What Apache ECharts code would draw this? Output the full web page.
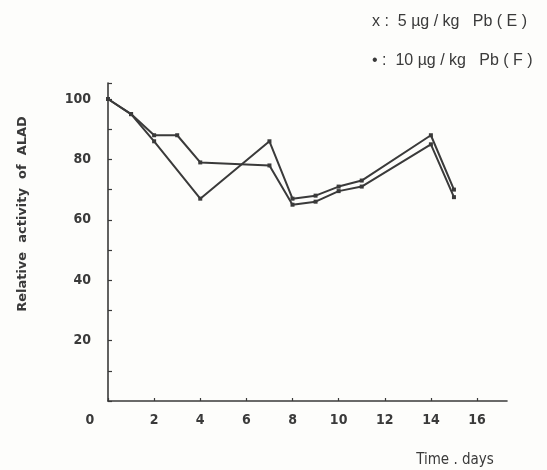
<!DOCTYPE html>
<html>
<head>
<meta charset="utf-8">
<script src="https://cdn.jsdelivr.net/npm/echarts@6/dist/echarts.min.js"></script>
<style>
  html, body { margin: 0; padding: 0; background: #fdfdfb; }
  #chart { width: 547px; height: 470px; }
</style>
</head>
<body>
<div id="chart"></div>
<script>
// Relative ALAD activity after lead dosing, two dose groups
const seriesNames = ['x :  5 µg / kg   Pb ( E )', '• :  10 µg / kg   Pb ( F )'];

const daysE = [0, 1, 2, 4, 7, 8, 9, 10, 11, 14, 15];
const valuesE = [100, 95, 86, 67, 86, 67, 68, 71, 73, 88, 70];

const daysF = [0, 1, 2, 3, 4, 7, 8, 9, 10, 11, 14, 15];
const valuesF = [100, 95, 88, 88, 79, 78, 65, 66, 69.5, 71, 85, 67.5];

const xTicks = [0, 2, 4, 6, 8, 10, 12, 14, 16];
const yTicks = [20, 40, 60, 80, 100];

const ink = '#3a3a3a';
const font = 'DejaVu Sans Condensed';

const pairs = (xs, ys) => xs.map((x, i) => [x, ys[i]]);

const chart = echarts.init(document.getElementById('chart'));

const lineSeries = (name, xs, ys) => ({
  name: name,
  type: 'line',
  data: pairs(xs, ys),
  symbol: 'rect',
  symbolSize: 4,
  showSymbol: true,
  lineStyle: { color: ink, width: 2 },
  itemStyle: { color: ink },
  animation: false
});

const labelStyle = { color: ink, fontFamily: font, fontSize: 14, fontWeight: 'bold' };

chart.setOption({
  backgroundColor: '#fdfdfb',
  animation: false,
  grid: { left: 108, right: 40, top: 83, bottom: 69 },
  xAxis: {
    type: 'value',
    min: 0,
    max: 17.3,
    interval: 2,
    splitLine: { show: false },
    axisLine: { show: true, onZero: false, lineStyle: { color: ink, width: 1.6 } },
    axisTick: { show: true, inside: true, length: 3, lineStyle: { color: ink, width: 1.2 } },
    axisLabel: Object.assign({}, labelStyle, {
      showMaxLabel: false,
      margin: 12,
      formatter: function (v) {
        if (xTicks.indexOf(v) < 0) return '';
        return v === 0 ? '{z|0}' : String(v);
      },
      rich: { z: Object.assign({ padding: [0, 36, 0, 0] }, labelStyle) }
    })
  },
  yAxis: {
    type: 'value',
    min: 0,
    max: 105.3,
    interval: 20,
    splitLine: { show: false },
    axisLine: { show: true, onZero: false, lineStyle: { color: ink, width: 1.6 } },
    axisTick: { show: true, inside: true, length: 4, lineStyle: { color: ink, width: 1.2 } },
    minorTick: { show: true, splitNumber: 2, length: 4, lineStyle: { color: ink, width: 1.2 } },
    axisLabel: Object.assign({}, labelStyle, {
      showMaxLabel: false,
      margin: 17,
      formatter: function (v) { return yTicks.indexOf(v) >= 0 ? String(v) : ''; }
    })
  },
  series: [
    lineSeries(seriesNames[0], daysE, valuesE),
    lineSeries(seriesNames[1], daysF, valuesF)
  ],
  graphic: [
    {
      type: 'text', left: 372, top: 14,
      style: { text: seriesNames[0], fill: ink, font: '16px "Liberation Sans"' }
    },
    {
      type: 'text', left: 372, top: 53,
      style: { text: seriesNames[1], fill: ink, font: '16px "Liberation Sans"' }
    },
    {
      type: 'text', x: 23, y: 214, rotation: Math.PI / 2,
      style: {
        text: 'Relative  activity  of  ALAD', fill: ink,
        font: 'bold 13px "DejaVu Sans"', align: 'center', verticalAlign: 'middle'
      }
    },
    {
      type: 'text', x: 455, y: 460,
      style: {
        text: 'Time . days', fill: ink,
        font: '15px "DejaVu Sans Condensed"', align: 'center', verticalAlign: 'middle'
      }
    }
  ]
});
</script>
</body>
</html>
